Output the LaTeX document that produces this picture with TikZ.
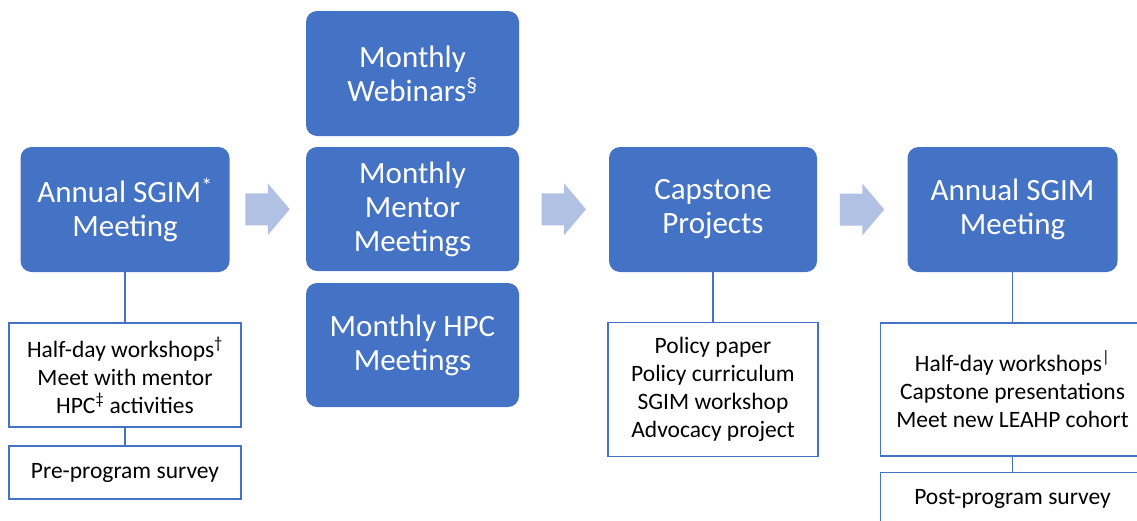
\documentclass[tikz,border=0pt]{standalone}
\usepackage{fontspec}
\setmainfont{Carlito}
\usetikzlibrary{calc}
\definecolor{stageblue}{HTML}{4472C4}
\definecolor{flowblue}{HTML}{B0C1E4}
\begin{document}
\begin{tikzpicture}[x=1pt,y=-1pt,
  stage/.style={fill=stageblue, rounded corners=11pt, text=white, align=center,
    font=\fontsize{31}{34}\selectfont, inner sep=0pt, minimum height=125pt},
  detail/.style={draw=stageblue, line width=1.3pt, fill=white, align=center,
    font=\fontsize{23.5}{28}\selectfont, inner sep=0pt},
  link/.style={draw=stageblue, line width=1.3pt},
  flowarrow/.pic={\fill[flowblue] (-22.5,-16) -- (0,-16) -- (0,-26) -- (22,0)
    -- (0,26) -- (0,16) -- (-22.5,16) -- cycle;}]
\useasboundingbox (0,0) rectangle (1137,520);
\clip (0,0) rectangle (1137,520);

% program stages
\node[stage, minimum width=209pt] (start) at (125,209.5)
  {Annual SGIM\textsuperscript{*}\\Meeting};
\node[stage, minimum width=213pt] (web) at (412.5,73.5)
  {Monthly\\Webinars\textsuperscript{§}};
\node[stage, minimum width=213pt, minimum height=124pt] (mentor) at (412.5,209)
  {Monthly\\Mentor\\Meetings};
\node[stage, minimum width=213pt, minimum height=124pt] (hpc) at (412.5,345)
  {Monthly HPC\\Meetings};
\node[stage, minimum width=208pt] (capstone) at (713,209.5)
  {Capstone\\Projects};
\node[stage, minimum width=210pt] (finish) at (1012.5,209.5)
  {Annual SGIM\\Meeting};

% activities under each stage
\node[detail, minimum width=232pt, minimum height=104pt] (startact) at (125,375)
  {Half-day workshops\textsuperscript{†}\\Meet with mentor\\HPC\textsuperscript{‡} activities};
\node[detail, minimum width=232pt, minimum height=53pt] (presurvey) at (125,472.5)
  {Pre-program survey};
\node[detail, minimum width=210pt, minimum height=134pt] (capact) at (713,389.5)
  {Policy paper\\Policy curriculum\\SGIM workshop\\Advocacy project};
\node[detail, minimum width=264pt, minimum height=133pt] (finishact) at (1012.5,389.5)
  {Half-day workshops\textsuperscript{|}\\Capstone presentations\\Meet new LEAHP cohort};
\node[detail, minimum width=264pt, minimum height=53pt] (postsurvey) at (1012.5,499)
  {Post-program survey};

% connectors
\draw[link] (start.south) -- (startact.north);
\draw[link] (startact.south) -- (presurvey.north);
\draw[link] (capstone.south) -- (capact.north);
\draw[link] (finish.south) -- (finishact.north);
\draw[link] (finishact.south) -- (postsurvey.north);

% flow arrows between stages
\pic at ($(start.east)!0.5!(mentor.west)$) {flowarrow};
\pic at ($(mentor.east)!0.5!(capstone.west)$) {flowarrow};
\pic at ($(capstone.east)!0.5!(finish.west)$) {flowarrow};
\end{tikzpicture}
\end{document}
